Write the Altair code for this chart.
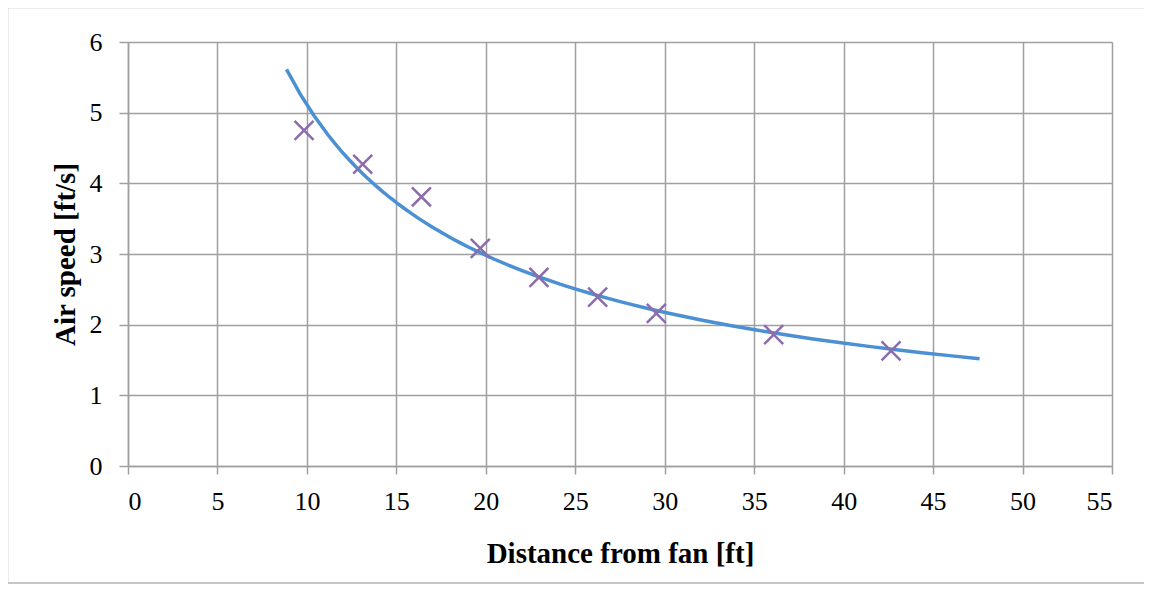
import altair as alt
import pandas as pd

# Measured points (distance in ft, air speed in ft/s)
distance_ft = [9.84, 13.12, 16.40, 19.69, 22.97, 26.25, 29.53, 36.09, 42.65]
air_speed = [4.75, 4.27, 3.81, 3.08, 2.67, 2.39, 2.16, 1.86, 1.63]

x_ticks = [0, 5, 10, 15, 20, 25, 30, 35, 40, 45, 50, 55]
y_ticks = [0, 1, 2, 3, 4, 5, 6]
trend_extent = [8.86, 47.6]

df = pd.DataFrame({"x": distance_ft, "y": air_speed})

GRID = "#a0a0a0"
FONT = "Liberation Serif"

xscale = alt.Scale(domain=[0, 55], nice=False, zero=False)
yscale = alt.Scale(domain=[0, 6], nice=False)

xaxis = alt.Axis(values=x_ticks, title="Distance from fan [ft]", grid=True, format="d",
                 tickSize=8, labelPadding=14, titlePadding=25)
yaxis = alt.Axis(values=y_ticks, title="Air speed [ft/s]", grid=True, format="d",
                 tickSize=9, labelPadding=17, titlePadding=9)

base = alt.Chart(df)

trend = base.transform_regression(
    "x", "y", method="pow", extent=trend_extent
).mark_line(color="#4a90d2", strokeWidth=3.5).encode(
    x=alt.X("x:Q", scale=xscale, axis=xaxis),
    y=alt.Y("y:Q", scale=yscale, axis=yaxis),
)

points = base.mark_point(
    shape="M-1,-1L1,1M-1,1L1,-1", filled=False, size=360,
    color="#8b6cae", strokeWidth=2.5, opacity=1
).encode(
    x=alt.X("x:Q", scale=xscale),
    y=alt.Y("y:Q", scale=yscale),
)

frame = alt.Chart(pd.DataFrame({"a": [0]})).mark_rect(
    fill=None, stroke="#b4b4b4", strokeWidth=1.5, clip=False
).encode(
    x=alt.value(-120.5), x2=alt.value(1020), y=alt.value(-34.5), y2=alt.value(541)
)

chart = alt.layer(frame, trend, points).properties(
    width=984, height=424,
    padding={"left": 120, "top": 34, "right": 32, "bottom": 118},
    autosize=alt.AutoSizeParams(type="none"),
    background="white",
).configure_view(stroke=None).configure_axis(
    gridColor=GRID, gridWidth=1.5, domainColor=GRID, domainWidth=1.5,
    tickColor=GRID, tickWidth=1.5,
    labelFont=FONT, labelFontSize=26, labelColor="#000000",
    titleFont=FONT, titleFontSize=29, titleFontWeight="bold", titleColor="#000000",
)

chart.save("out.html", embed_options={"renderer": "svg", "actions": False})
